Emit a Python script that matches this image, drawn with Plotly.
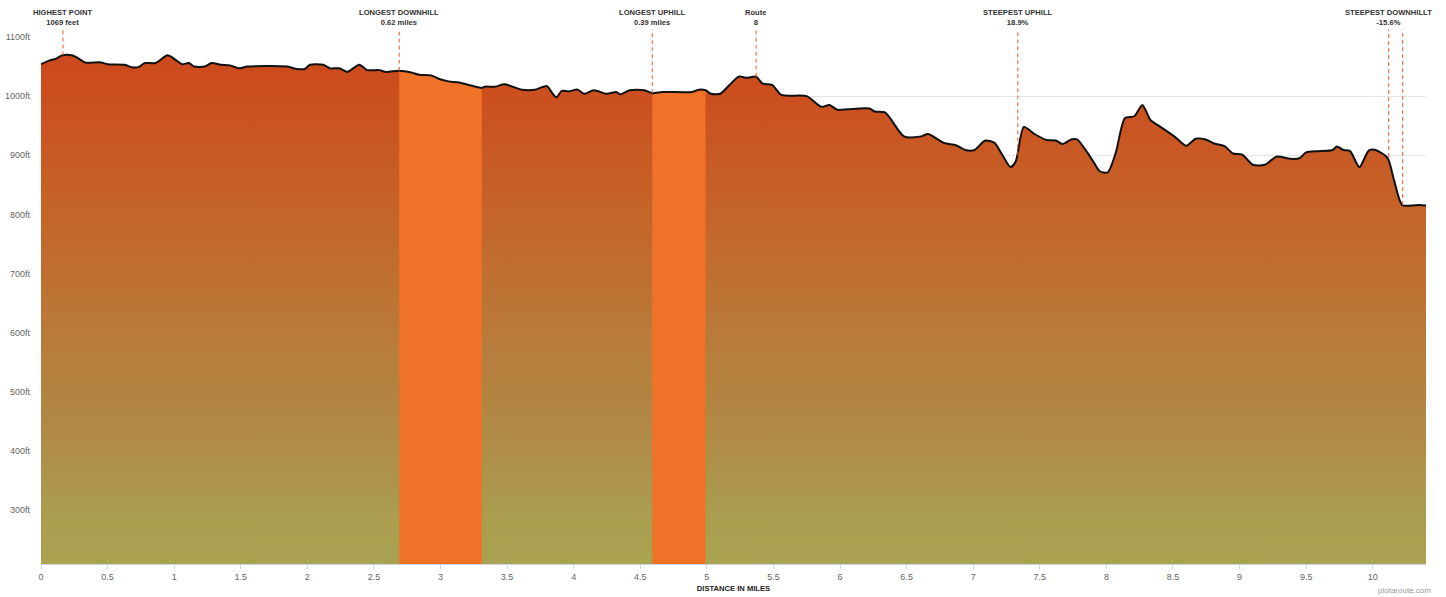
import plotly.graph_objects as go

# ---- data ----
miles = [0.00, 0.06, 0.11, 0.16, 0.23, 0.28, 0.33, 0.45, 0.50, 0.63, 0.68, 0.73, 0.78, 0.86,
         0.95, 1.00, 1.06, 1.11, 1.15, 1.23, 1.28, 1.35, 1.42, 1.49, 1.55, 1.85, 1.92, 1.98,
         2.02, 2.12, 2.17, 2.24, 2.30, 2.39, 2.45, 2.54, 2.59, 2.69, 2.78, 2.84, 2.93, 2.99,
         3.06, 3.14, 3.23, 3.31, 3.33, 3.41, 3.48, 3.61, 3.71, 3.80, 3.83, 3.87, 3.91, 3.96,
         4.03, 4.08, 4.15, 4.25, 4.32, 4.35, 4.42, 4.53, 4.59, 4.67, 4.89, 4.94, 4.99, 5.03,
         5.10, 5.17, 5.24, 5.30, 5.37, 5.42, 5.49, 5.56, 5.75, 5.86, 5.92, 5.98, 6.06, 6.22,
         6.26, 6.34, 6.48, 6.61, 6.66, 6.78, 6.87, 6.94, 7.01, 7.09, 7.16, 7.21, 7.28, 7.32,
         7.38, 7.46, 7.55, 7.62, 7.67, 7.74, 7.78, 7.85, 7.90, 7.95, 8.01, 8.07, 8.14, 8.21,
         8.27, 8.33, 8.40, 8.51, 8.60, 8.67, 8.74, 8.81, 8.89, 8.95, 9.02, 9.10, 9.19, 9.28,
         9.38, 9.45, 9.50, 9.59, 9.70, 9.73, 9.78, 9.83, 9.90, 9.97, 10.02, 10.11, 10.16,
         10.22, 10.29, 10.35, 10.40]
elevation_ft = [1054, 1060, 1063, 1069, 1069, 1064, 1057, 1057, 1054, 1053, 1049, 1049, 1056, 1056,
                1069, 1063, 1054, 1056, 1050, 1050, 1056, 1053, 1052, 1047, 1050, 1050, 1046, 1046,
                1053, 1053, 1047, 1047, 1041, 1053, 1044, 1044, 1041, 1043, 1040, 1036, 1035, 1029,
                1025, 1023, 1018, 1014, 1016, 1016, 1020, 1011, 1011, 1017, 1008, 998, 1009, 1008,
                1011, 1004, 1010, 1004, 1007, 1003, 1010, 1010, 1005, 1007, 1007, 1011, 1010, 1004,
                1004, 1019, 1033, 1031, 1033, 1021, 1019, 1002, 1000, 982, 985, 977, 978, 979,
                974, 972, 932, 932, 936, 921, 917, 909, 909, 925, 921, 904, 880, 890,
                948, 936, 926, 925, 919, 927, 927, 907, 890, 873, 871, 904, 963, 966,
                985, 960, 949, 932, 916, 928, 927, 920, 915, 903, 901, 884, 884, 898,
                894, 895, 905, 907, 909, 915, 909, 907, 880, 908, 909, 896, 858,
                816, 815, 816, 815]

# highlighted stretches (start mile, end mile)
segments = [(2.69, 3.31), (4.59, 4.99)]

# marker annotations
marker_titles = ["HIGHEST POINT", "LONGEST DOWNHILL", "LONGEST UPHILL", "Route",
                 "STEEPEST UPHILL", "STEEPEST DOWNHILLT", ""]
marker_values = ["1069 feet", "0.62 miles", "0.39 miles", "8", "18.9%", "-15.6%", ""]
marker_miles = [0.165, 2.69, 4.59, 5.37, 7.335, 10.12, 10.225]
marker_elev = [1069, 1043, 1005, 1033, 900, 897, 816]

y_min, y_max = 209, 1100
x_max = 10.4

FONT = "Liberation Sans, Arial, sans-serif"

fig = go.Figure()

# gradient filled elevation area
fig.add_trace(go.Scatter(
    x=miles, y=elevation_ft, mode="lines",
    line=dict(width=0, shape="spline", smoothing=0.7),
    fill="tozeroy",
    fillgradient=dict(
        type="vertical", start=y_min, stop=1069,
        colorscale=[[0.0, "#A9A352"], [0.106, "#AA9C4E"], [0.222, "#B08E48"],
                    [0.338, "#B28340"], [0.455, "#B97A3A"], [0.571, "#BF6F30"],
                    [0.687, "#C4652A"], [0.803, "#C85A24"], [0.92, "#CB4F1F"],
                    [1.0, "#CC491C"]]),
    hoverinfo="skip", showlegend=False))

# highlighted segments
for s0, s1 in segments:
    xs = [m for m in miles if s0 <= m <= s1]
    ys = [e for m, e in zip(miles, elevation_ft) if s0 <= m <= s1]
    fig.add_trace(go.Scatter(
        x=xs, y=ys, mode="lines",
        line=dict(width=0, shape="spline", smoothing=0.7),
        fill="tozeroy", fillcolor="#F07229",
        hoverinfo="skip", showlegend=False))

# outline
fig.add_trace(go.Scatter(
    x=miles, y=elevation_ft, mode="lines",
    line=dict(color="#111111", width=2, shape="spline", smoothing=0.7),
    hoverinfo="skip", showlegend=False))

def to_paper(v):
    return (v - y_min) / (y_max - y_min)

shapes = []
annotations = []
for t, v, m, e in zip(marker_titles, marker_values, marker_miles, marker_elev):
    shapes.append(dict(type="line", xref="x", yref="paper", x0=m, x1=m,
                       y0=to_paper(e), y1=1.014,
                       line=dict(color="#F05A28", width=1, dash="4px,3px")))
    if t:
        annotations.append(dict(
            x=m, xref="x", y=1.015, yref="paper", xanchor="center", yanchor="bottom",
            text=f"<b>{t}</b><br><b>{v}</b>", showarrow=False,
            font=dict(family=FONT, size=7.6, color="#333333"),
            align="center"))

annotations.append(dict(
    x=1.005, xref="paper", y=-0.051, yref="paper", xanchor="right", yanchor="middle",
    text="plotaroute.com", showarrow=False,
    font=dict(family=FONT, size=8, color="#999999")))

fig.update_layout(
    width=1446, height=597,
    margin=dict(l=41, r=20, t=37, b=33, autoexpand=False),
    paper_bgcolor="white", plot_bgcolor="white",
    shapes=shapes, annotations=annotations,
    xaxis=dict(range=[0, x_max], tick0=0, dtick=0.5, showgrid=False, zeroline=False,
               automargin=False,
               showline=True, linecolor="#CCD6EB", linewidth=1,
               ticks="outside", ticklen=4, tickcolor="#CCD6EB",
               tickfont=dict(family=FONT, size=9, color="#666666"),
               title=dict(text="<b>DISTANCE IN MILES</b>", standoff=4,
                          font=dict(family=FONT, size=7.6, color="#222222"))),
    yaxis=dict(range=[y_min, y_max], tick0=0, dtick=100, ticksuffix="ft",
               automargin=False,
               showgrid=True, gridcolor="#E6E6E6", gridwidth=1, zeroline=False,
               showline=False, ticks="", ticklabelstandoff=10,
               tickfont=dict(family=FONT, size=9, color="#666666")),
)

fig.write_html("out.html",
               config={"displayModeBar": False},
               post_script="document.body.style.margin='0';document.body.style.overflow='hidden';")
